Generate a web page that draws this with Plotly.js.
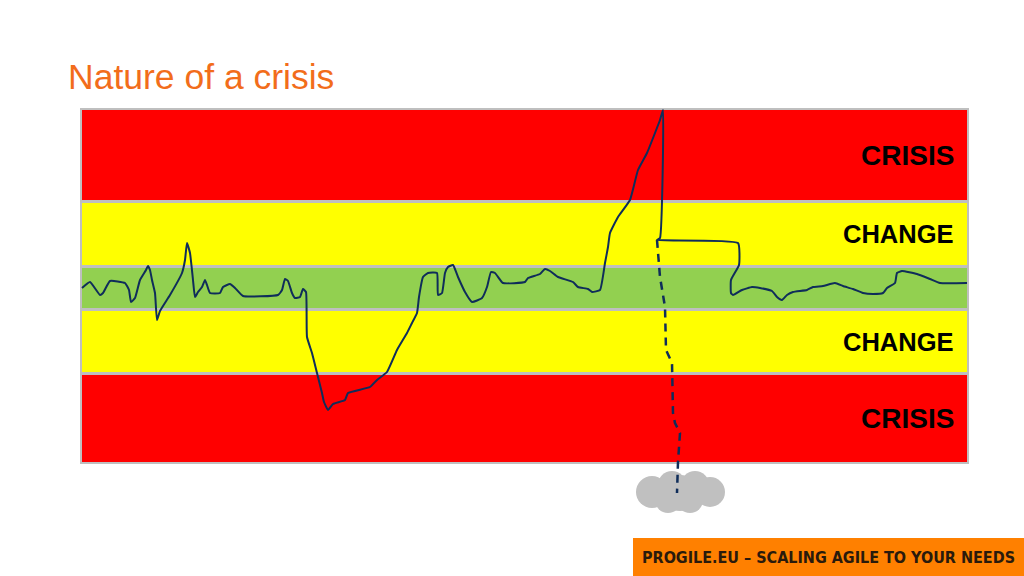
<!DOCTYPE html>
<html>
<head>
<meta charset="utf-8">
<script src="https://cdn.plot.ly/plotly-3.0.1.min.js"></script>
<style>
  html, body { margin: 0; padding: 0; background: #fff; }
  #chart { width: 1024px; height: 576px; }
</style>
</head>
<body>
<div id="chart"></div>
<script>
// bands of the "nature of a crisis" picture, level 0 = centre of the normal zone
const bandNames = ["CRISIS", "CHANGE", "", "CHANGE", "CRISIS"];
const bandTop = [178, 85, 20, -23, -87];
const bandBottom = [88, 23, -20, -84, -174];
const bandColors = ["#FF0000", "#FFFF00", "#92D050", "#FFFF00", "#FF0000"];

// the hand drawn course of the organisation over time
const timeLine = [0, 8, 18, 21, 28, 43, 47, 49, 53, 58, 64, 66, 68, 70, 73, 75, 78, 88, 100, 103,
  105, 108, 111, 113, 116, 120, 123, 125, 128, 138, 141, 148, 153, 161, 196, 200, 203, 206, 210, 213,
  218, 221, 224, 225, 230, 235, 240, 242, 246, 251, 263, 266, 288, 295, 305, 315, 325, 330, 335, 337,
  341, 346, 355, 356, 360, 363, 366, 371, 376, 383, 390, 400, 405, 409, 413, 421, 443, 446, 458, 463,
  468, 476, 491, 496, 506, 510, 518, 523, 526, 528, 536, 548, 556, 565, 573, 578, 581, 578, 575, 656,
  657, 649, 649, 651, 660, 670, 678, 690, 695, 700, 705, 711, 725, 731, 741, 753, 761, 771, 781, 791,
  801, 805, 813, 815, 820, 835, 848, 858, 885];
const levelLine = [0, 6, -7, -5, 7, 5, -2, -14, -10, 8, 18, 22, 18, 8, -5, -32, -23, -7, 15, 28,
  45, 35, 8, -9, -4, 1, 8, 3, -5, -5, 1, 4, 0, -8, -7, -2, 9, 7, -5, -10,
  -9, -1, -4, -49, -65, -85, -105, -114, -122, -116, -112, -105, -99, -92, -84, -62, -45, -35, -25, -9,
  11, 15, 15, -7, -5, 15, 21, 23, 11, -4, -14, -10, 1, 16, 15, 5, 6, 10, 14, 19,
  17, 11, 6, 1, -1, -4, -2, 25, 41, 55, 71, 88, 118, 135, 155, 168, 178, 50, 48, 45,
  23, 8, -5, -7, -2, 1, 0, -3, -9, -12, -7, -4, -2, 1, 2, 5, 2, -1, -5, -6,
  -5, 0, 5, 15, 17, 14, 9, 5, 5];

// the alternative path: the fall into the abyss
const timeFall = [575, 578, 583, 584, 590, 591, 593, 598, 596, 595];
const levelFall = [48, 11, -19, -62, -75, -125, -135, -145, -174, -205];

// little cloud at the bottom of the fall (centre time, centre level, radius)
const cloudT = [570, 590, 613, 628, 586, 608, 598];
const cloudL = [-204, -197, -197, -204, -212, -212, -205];
const cloudR = [16, 14, 14, 15, 13, 13, 18];

const shapes = [];
// grey frame behind the bands
shapes.push({
  type: "rect", layer: "below", xref: "x", yref: "y",
  x0: -2, x1: 887, y0: -176, y1: 180,
  fillcolor: "#BFBFBF", line: { width: 0 }
});
bandNames.forEach((n, i) => {
  shapes.push({
    type: "rect", layer: "below", xref: "x", yref: "y",
    x0: 0, x1: 885, y0: bandBottom[i], y1: bandTop[i],
    fillcolor: bandColors[i], line: { width: 0 }
  });
});
cloudT.forEach((t, i) => {
  shapes.push({
    type: "circle", layer: "below", xref: "x", yref: "y",
    x0: t - cloudR[i], x1: t + cloudR[i], y0: cloudL[i] - cloudR[i], y1: cloudL[i] + cloudR[i],
    fillcolor: "#C0C0C0", line: { width: 0 }
  });
});
// footer bar
shapes.push({
  type: "rect", layer: "below", xref: "paper", yref: "paper",
  x0: 633 / 1024, x1: 1, y0: 0, y1: 38 / 576,
  fillcolor: "#FF8000", line: { width: 0 }
});

const annotations = [];
bandNames.forEach((n, i) => {
  if (!n) return;
  annotations.push({
    x: 874, y: (bandTop[i] + bandBottom[i]) / 2, xref: "x", yref: "y",
    xanchor: "right", yanchor: "middle", showarrow: false, text: n,
    font: { family: "Liberation Sans, Arial, sans-serif", size: n === "CRISIS" ? 28 : 25.5, color: "#000", weight: "bold" }
  });
});
annotations.push({
  x: 66 / 1024, y: 1 - 77 / 576, xref: "paper", yref: "paper",
  xanchor: "left", yanchor: "middle", showarrow: false,
  text: "Nature of a crisis",
  font: { family: "Liberation Sans, Arial, sans-serif", size: 35.5, color: "#F26D1B" }
});
annotations.push({
  x: (633 + 1024) / 2 / 1024, y: 19 / 576, xref: "paper", yref: "paper",
  xanchor: "center", yanchor: "middle", showarrow: false,
  text: "PROGILE.EU – SCALING AGILE TO YOUR NEEDS",
  font: { family: "DejaVu Sans Condensed, sans-serif", size: 16, color: "#2A1A0C", weight: "bold", stretch: "condensed" }
});

const traces = [
  {
    x: timeLine, y: levelLine, type: "scatter", mode: "lines",
    line: { color: "#0F2D5A", width: 2, shape: "spline", smoothing: 0.4 }, hoverinfo: "skip"
  },
  {
    x: timeFall, y: levelFall, type: "scatter", mode: "lines",
    line: { color: "#0F2D5A", width: 2.5, dash: "8px,6px" }, hoverinfo: "skip"
  }
];

const layout = {
  width: 1024, height: 576,
  margin: { l: 0, r: 0, t: 0, b: 0 },
  paper_bgcolor: "#fff", plot_bgcolor: "#fff",
  showlegend: false,
  xaxis: { range: [-82, 942], visible: false, fixedrange: true },
  yaxis: { range: [-288, 288], visible: false, fixedrange: true },
  shapes: shapes,
  annotations: annotations
};

Plotly.newPlot("chart", traces, layout, { staticPlot: true });
</script>
</body>
</html>
